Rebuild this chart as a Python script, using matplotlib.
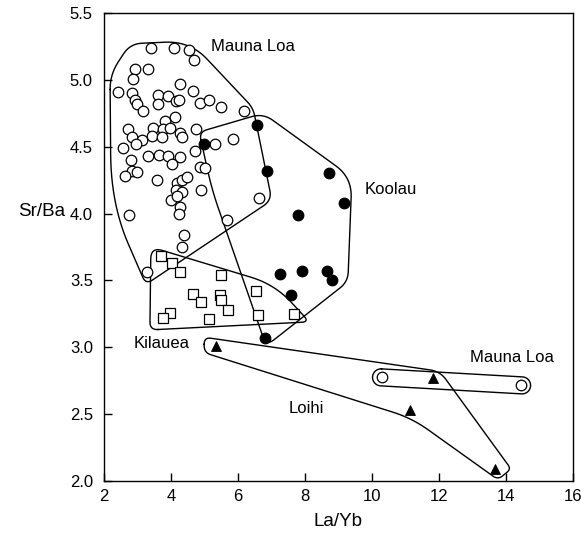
import numpy as np
import matplotlib
matplotlib.use("Agg")
import matplotlib.pyplot as plt

plt.rcParams['font.family'] = ['Liberation Sans', 'DejaVu Sans']

# ---- Sample data: La/Yb vs Sr/Ba ----
mauna_loa_x = [3.39, 4.09, 4.55, 4.69, 2.93, 3.32, 2.87, 4.27, 4.67, 2.43, 2.83, 2.93, 2.98,
               3.16, 3.62, 3.92, 4.15, 4.25, 3.62, 4.87, 5.14, 5.48, 6.18, 2.73, 2.83, 3.47,
               3.82, 4.12, 3.77, 3.97, 3.42, 3.72, 4.27, 4.32, 4.75, 3.13, 2.96, 2.58, 3.32,
               3.65, 3.92, 4.27, 4.02, 2.80, 4.73, 5.31, 5.84, 4.87, 5.01, 2.83, 2.98, 2.63,
               3.59, 4.17, 4.32, 4.47, 4.15, 4.32, 3.99, 4.19, 4.27, 4.25, 4.91, 2.76, 5.66,
               4.39, 4.32, 3.27, 6.64]
mauna_loa_y = [5.24, 5.24, 5.22, 5.15, 5.08, 5.08, 5.01, 4.97, 4.92, 4.91, 4.90, 4.85, 4.82,
               4.77, 4.89, 4.88, 4.84, 4.85, 4.82, 4.83, 4.85, 4.80, 4.77, 4.63, 4.57, 4.64,
               4.69, 4.72, 4.63, 4.64, 4.58, 4.57, 4.60, 4.57, 4.63, 4.55, 4.52, 4.49, 4.43,
               4.44, 4.43, 4.42, 4.37, 4.40, 4.47, 4.52, 4.56, 4.35, 4.34, 4.32, 4.31, 4.28,
               4.25, 4.23, 4.25, 4.27, 4.18, 4.16, 4.10, 4.13, 4.05, 4.00, 4.18, 3.99, 3.95,
               3.84, 3.75, 3.56, 4.12]

kilauea_x = [3.70, 4.02, 4.27, 5.49, 6.54, 4.65, 4.91, 5.46, 5.48, 5.69, 3.97, 3.75, 5.13, 6.60, 7.68]
kilauea_y = [3.68, 3.63, 3.56, 3.54, 3.42, 3.40, 3.34, 3.39, 3.35, 3.28, 3.26, 3.22, 3.21, 3.24, 3.25]

koolau_x = [6.56, 4.99, 6.86, 8.72, 9.17, 7.78, 7.25, 7.90, 8.65, 8.82, 7.58, 6.81]
koolau_y = [4.66, 4.52, 4.32, 4.30, 4.08, 3.99, 3.55, 3.57, 3.57, 3.50, 3.39, 3.07]

loihi_x = [5.34, 11.83, 11.13, 13.67]
loihi_y = [3.01, 2.77, 2.53, 2.09]

mauna_loa2_x = [10.29, 14.44]
mauna_loa2_y = [2.78, 2.72]

# ---- Field boundaries (vertices in data units) ----
ml_field_x = [2.18, 2.78, 4.57, 6.45, 7.01, 3.25, 2.21]
ml_field_y = [5.04, 5.27, 5.29, 4.79, 4.10, 3.47, 4.07]
ml_field_r = [15, 12, 25, 8, 10, 8, 50]

koolau_field_x = [4.84, 6.75, 9.40, 9.28, 6.84, 5.22]
koolau_field_y = [4.61, 4.75, 4.27, 3.49, 3.01, 4.18]
koolau_field_r = [8, 12, 20, 10, 10, 20]

kilauea_field_x = [3.37, 3.40, 7.10, 8.13]
kilauea_field_y = [3.13, 3.75, 3.47, 3.19]
kilauea_field_r = [8, 12, 25, 8]

loihi_field_x = [4.99, 12.03, 14.15, 13.76, 11.19, 4.99]
loihi_field_y = [3.075, 2.82, 2.09, 2.01, 2.47, 2.96]
loihi_field_r = [7, 10, 5, 6, 20, 7]

ml2_field_ends_x = [10.27, 14.48]
ml2_field_ends_y = [2.775, 2.715]

fig = plt.figure(figsize=(5.81, 5.39), dpi=100)
ax = fig.add_axes([104 / 581, 1 - 481 / 539, (573 - 104) / 581, (481 - 13) / 539])
ax.set_xlim(2, 16)
ax.set_ylim(2.0, 5.5)


def rounded_outline(xs, ys, radii, n=14):
    pts = ax.transData.transform(np.column_stack([xs, ys]))
    m = len(pts)
    segs = []
    t = np.linspace(0, 1, n)[:, None]
    for i in range(m):
        v, p, q = pts[i], pts[i - 1], pts[(i + 1) % m]
        dp, dq = p - v, q - v
        lp, lq = np.hypot(*dp), np.hypot(*dq)
        a = v + dp / lp * min(radii[i], lp / 2)
        b = v + dq / lq * min(radii[i], lq / 2)
        segs.append((1 - t) ** 2 * a + 2 * (1 - t) * t * v + t ** 2 * b)
    out = np.vstack(segs + [segs[0][:1]])
    return ax.transData.inverted().transform(out)


def capsule(xs, ys, r, n=30):
    c1, c2 = ax.transData.transform(np.column_stack([xs, ys]))
    d = c2 - c1
    ang = np.arctan2(d[1], d[0])
    th1 = np.linspace(ang + np.pi / 2, ang + 3 * np.pi / 2, n)
    th2 = np.linspace(ang - np.pi / 2, ang + np.pi / 2, n)
    arc1 = c1 + r * np.column_stack([np.cos(th1), np.sin(th1)])
    arc2 = c2 + r * np.column_stack([np.cos(th2), np.sin(th2)])
    out = np.vstack([arc1, arc2, arc1[:1]])
    return ax.transData.inverted().transform(out)


line_kw = dict(color='black', lw=1.0, zorder=2)
for fx, fy, fr in [(ml_field_x, ml_field_y, ml_field_r),
                   (koolau_field_x, koolau_field_y, koolau_field_r),
                   (kilauea_field_x, kilauea_field_y, kilauea_field_r),
                   (loihi_field_x, loihi_field_y, loihi_field_r)]:
    path = rounded_outline(fx, fy, fr)
    ax.plot(path[:, 0], path[:, 1], **line_kw)
cap = capsule(ml2_field_ends_x, ml2_field_ends_y, 8.5)
ax.plot(cap[:, 0], cap[:, 1], **line_kw)

# ---- Samples ----
ax.plot(mauna_loa_x, mauna_loa_y, 'o', ms=7.6, mfc='white', mec='black', mew=0.9, zorder=3)
ax.plot(mauna_loa2_x, mauna_loa2_y, 'o', ms=7.6, mfc='white', mec='black', mew=0.9, zorder=3)
ax.plot(kilauea_x, kilauea_y, 's', ms=6.6, mfc='white', mec='black', mew=0.9, zorder=3)
ax.plot(koolau_x, koolau_y, 'o', ms=7.6, mfc='black', mec='black', mew=0.9, zorder=4)
ax.plot(loihi_x, loihi_y, '^', ms=7.6, mfc='black', mec='black', mew=0.6, zorder=4)

# ---- Field labels ----
lab_kw = dict(fontsize=12, ha='left', va='center', zorder=5)
ax.text(5.19, 5.25, 'Mauna Loa', **lab_kw)
ax.text(9.79, 4.18, 'Koolau', **lab_kw)
ax.text(2.87, 3.03, 'Kilauea', **lab_kw)
ax.text(7.52, 2.54, 'Loihi', **lab_kw)
ax.text(12.93, 2.92, 'Mauna Loa', **lab_kw)

# ---- Axes ----
ax.set_xticks([2, 4, 6, 8, 10, 12, 14, 16])
ax.set_yticks([2.0, 2.5, 3.0, 3.5, 4.0, 4.5, 5.0, 5.5])
ax.set_yticklabels(['2.0', '2.5', '3.0', '3.5', '4.0', '4.5', '5.0', '5.5'])
ax.tick_params(direction='in', length=6, width=1, labelsize=12, top=False, right=False)
ax.tick_params(axis='y', pad=8)
ax.tick_params(axis='x', pad=6)
for s in ax.spines.values():
    s.set_linewidth(1.0)

fig.text(42 / 581, 1 - 212 / 539, 'Sr/Ba', fontsize=13.5, ha='center', va='center')
fig.text(338 / 581, 1 - 522 / 539, 'La/Yb', fontsize=13.5, ha='center', va='center')

fig.savefig('out.png', dpi=100)
